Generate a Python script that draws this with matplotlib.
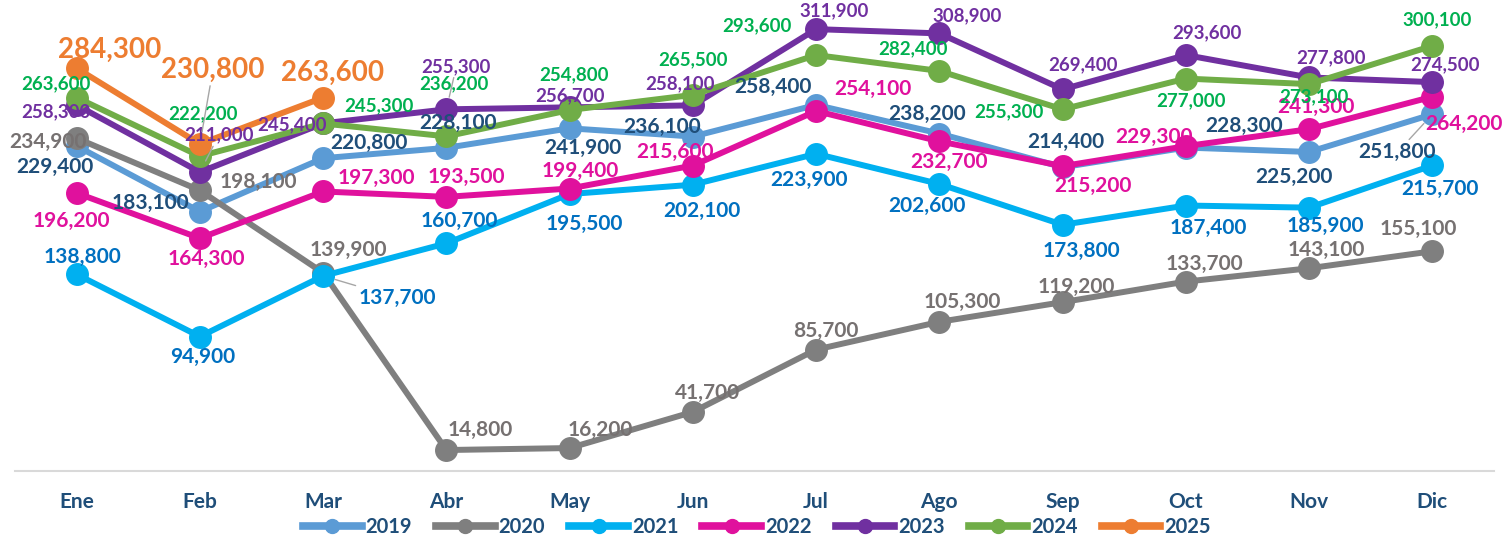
import matplotlib
matplotlib.use("Agg")
import matplotlib.pyplot as plt
from matplotlib.lines import Line2D

plt.rcParams['font.family'] = ['Lato', 'DejaVu Sans']

months = ['Ene', 'Feb', 'Mar', 'Abr', 'May', 'Jun', 'Jul', 'Ago', 'Sep', 'Oct', 'Nov', 'Dic']
years = ['2019', '2020', '2021', '2022', '2023', '2024', '2025']

v2019 = [229400, 183100, 220800, 228100, 241900, 236100, 258400, 238200, 214400, 228300, 225200, 251800]
v2020 = [234900, 198100, 139900, 14800, 16200, 41700, 85700, 105300, 119200, 133700, 143100, 155100]
v2021 = [138800, 94900, 137700, 160700, 195500, 202100, 223900, 202600, 173800, 187400, 185900, 215700]
v2022 = [196200, 164300, 197300, 193500, 199400, 215600, 254100, 232700, 215200, 229300, 241300, 264200]
v2023 = [258300, 211000, 245400, 255300, 256700, 258100, 311900, 308900, 269400, 293600, 277800, 274500]
v2024 = [263600, 222200, 245300, 236200, 254800, 265500, 293600, 282400, 255300, 277000, 273100, 300100]
v2025 = [284300, 230800, 263600]

series = [v2019, v2020, v2021, v2022, v2023, v2024, v2025]

line_colors = ['#5B9BD5', '#7F7F7F', '#00B0F0', '#E0119D', '#7030A0', '#70AD47', '#ED7D31']
label_colors = ['#1F4E79', '#767171', '#0070C0', '#E0119D', '#7030A0', '#00B050', '#ED7D31']
label_sizes = [15, 15, 15, 15, 13.5, 13.5, 20]

# label offsets in pixels (dx, dy up)
offsets = [
    [(-22, -21), (-49, 9), (46, 15), (12, 25), (13, -20), (-31, 10), (-43, 18), (-12, 20), (3, 25), (58, 22), (-15, -25), (-35, -38)],
    [(-29, -4), (58, 8), (25, 23), (34, 20), (31, 18), (15, 19), (10, 19), (23, 20), (14, 15), (19, 18), (17, 18), (-14, 22)],
    [(6, 17), (3, -20), (74, -22), (13, 22), (15, -30), (9, -26), (-7, -26), (-12, -22), (19, -26), (22, -22), (16, -18), (8, -24)],
    [(-5, -28), (6, -21), (53, 14), (20, 20), (11, 18), (-18, 14), (57, 22), (10, -21), (30, -20), (-32, 9), (7, 22), (32, -27)],
    [(-21, -7), (19, 37), (-31, -1), (10, 43), (0, 12), (-13, 22), (18, 18), (28, 18), (20, 25), (21, 22), (22, 20), (13, 17)],
    [(-21, 14), (3, 42), (56, 18), (8, 53), (4, 35), (0, 35), (-59, 29), (-26, 22), (-54, -2), (5, -22), (5, -13), (5, 26)],
    [(33, 18), (13, 74), (9, 25)],
]
# points with a leader line: (series index, month index)
leaders = [(6, 1), (4, 1), (4, 3), (2, 2), (0, 11)]

fig = plt.figure(figsize=(15.06, 5.37), dpi=100)
ax = fig.add_axes([15 / 1506, 1 - 471 / 537, 1479 / 1506, 467.5 / 537])

for k, vals in enumerate(series):
    xs = list(range(len(vals)))
    ax.plot(xs, vals, color=line_colors[k], lw=4.3, marker='o', ms=15.5,
            solid_capstyle='round', zorder=2 + k)
    for i, v in enumerate(vals):
        dx, dy = offsets[k][i]
        arrow = None
        if (k, i) in leaders:
            arrow = dict(arrowstyle='-', color='#A6A6A6', lw=1, shrinkA=0, shrinkB=9)
        ax.annotate(f'{v:,}', (i, v), xytext=(dx, dy), textcoords='offset pixels',
                    ha='center', va='center', fontsize=label_sizes[k],
                    fontweight='bold', color=label_colors[k], zorder=20,
                    arrowprops=arrow)

ax.set_xlim(-0.5, 11.5)
ax.set_ylim(0, 330000)
ax.set_xticks(range(12))
ax.set_xticklabels(months, fontsize=15, fontweight='bold', color='#1F4E79')
ax.tick_params(axis='x', length=0, pad=15)
ax.set_yticks([])
for s in ['left', 'right', 'top']:
    ax.spines[s].set_visible(False)
ax.spines['bottom'].set_color('#D9D9D9')
ax.spines['bottom'].set_linewidth(1.5)

handles = [Line2D([], [], color=c, lw=5.5, marker='o', ms=10) for c in line_colors]
leg = fig.legend(handles, years, loc='center', bbox_to_anchor=(757 / 1506, 1 - 527 / 537),
                 ncol=7, frameon=False, handlelength=2.9, handletextpad=0.2,
                 columnspacing=1.2, borderpad=0, prop={'size': 14.5, 'weight': 'bold'})
for t in leg.get_texts():
    t.set_color('#1F4E79')

fig.savefig('out.png', dpi=100)
